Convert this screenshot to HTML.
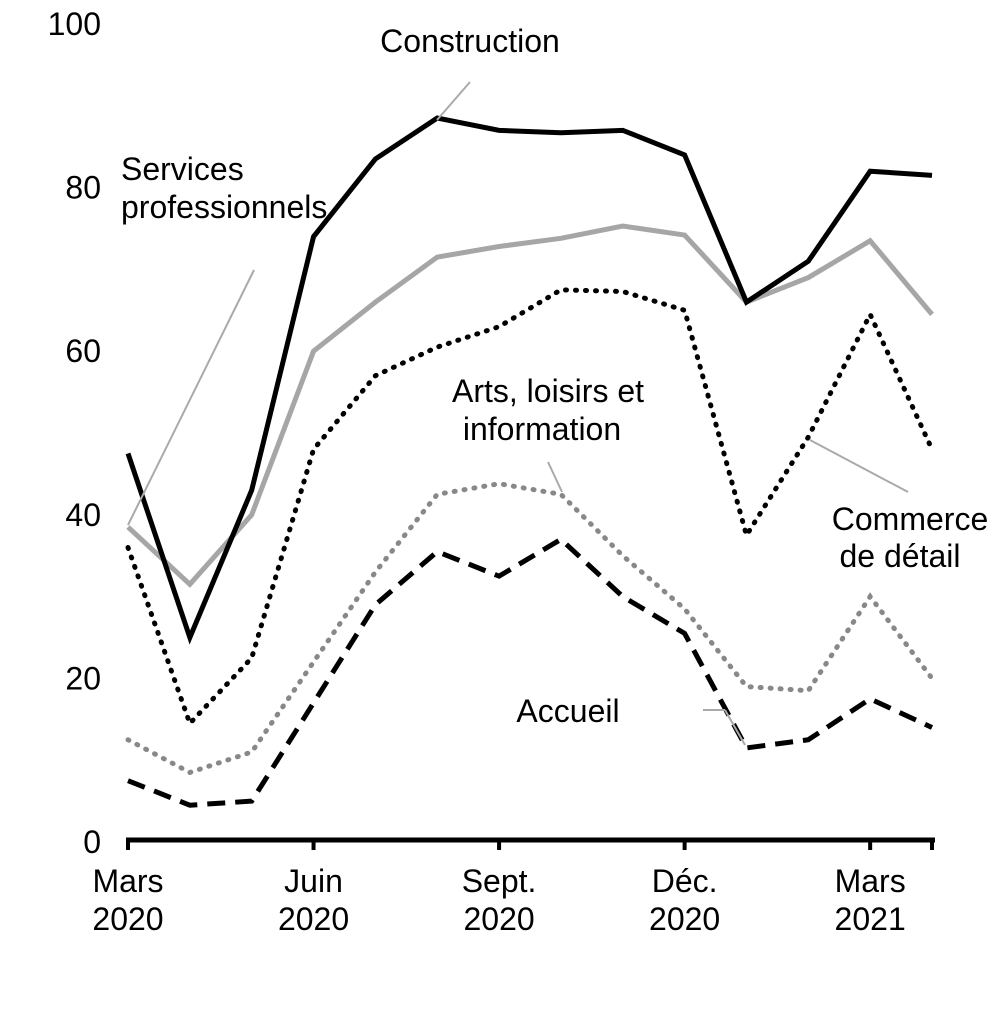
<!DOCTYPE html>
<html><head><meta charset="utf-8"><style>
body{margin:0;background:#fff}
svg text{font-family:"Liberation Sans",Arial,sans-serif;font-size:32px;fill:#000}
</style></head><body>
<svg id="chart" width="1004" height="1004" viewBox="0 0 1004 1004" xmlns="http://www.w3.org/2000/svg">
<g id="yticks"></g>
<g id="xaxis"></g>
<g id="series"></g>
<g id="ann">
<line x1="437" y1="120" x2="470" y2="82" stroke="#aaa" stroke-width="2"/>
<text x="470" y="52" text-anchor="middle">Construction</text>
<line x1="128" y1="525" x2="254" y2="270" stroke="#aaa" stroke-width="2"/>
<text x="121" y="180">Services</text>
<text x="121" y="218">professionnels</text>
<text x="548" y="402" text-anchor="middle">Arts, loisirs et</text>
<text x="542" y="440" text-anchor="middle">information</text>
<line x1="548" y1="462" x2="562" y2="492" stroke="#aaa" stroke-width="2"/>
<line x1="810" y1="440" x2="908" y2="492" stroke="#aaa" stroke-width="2"/>
<text x="910" y="530" text-anchor="middle">Commerce</text>
<text x="900" y="567" text-anchor="middle">de détail</text>
<text x="568" y="722" text-anchor="middle">Accueil</text>
<line x1="703" y1="710" x2="725" y2="710" stroke="#aaa" stroke-width="2"/>
<line x1="725" y1="710" x2="745" y2="745" stroke="#aaa" stroke-width="2"/>
</g>
</svg>
<script>
const yTicks=[0,20,40,60,80,100];
const xLabels=[["Mars","2020",0],["Juin","2020",3],["Sept.","2020",6],["Déc.","2020",9],["Mars","2021",12]];
const construction=[47.5,25,43,74,83.5,88.5,87,86.7,87,84,66,71,82,81.5];
const services=[38.5,31.5,40,60,66,71.5,72.8,73.8,75.3,74.2,66,69,73.5,64.5];
const commerce=[36,14.5,22.5,48,57,60.5,63,67.5,67.3,65,37.5,49.5,64.5,48];
const arts=[12.5,8.5,11,22,33,42.5,43.8,42.5,35,28.5,19,18.5,30,20];
const accueil=[7.5,4.5,5,17,29,35.5,32.5,37,30,25.5,11.5,12.5,17.5,14];
const NS="http://www.w3.org/2000/svg";
const x=i=>128+i*(932-128)/13;
const y=v=>842-v*8.18;
function mk(t,a,p){const e=document.createElementNS(NS,t);for(const k in a)e.setAttribute(k,a[k]);document.getElementById(p).appendChild(e);return e;}
yTicks.forEach(v=>{const t=mk("text",{x:101,y:y(v)+11,"text-anchor":"end"},"yticks");t.textContent=v;

});
const ax=mk("line",{x1:126,y1:840,x2:935,y2:840,stroke:"#000","stroke-width":5},"xaxis");


[0,3,6,9,12,13].forEach(i=>{const tk=mk("line",{x1:x(i),y1:840,x2:x(i),y2:850,stroke:"#000","stroke-width":4},"xaxis");

});
xLabels.forEach(l=>{const a=mk("text",{x:x(l[2]),y:892,"text-anchor":"middle"},"xaxis");a.textContent=l[0];


const b=mk("text",{x:x(l[2]),y:930,"text-anchor":"middle"},"xaxis");b.textContent=l[1];

});
function line(d,st,name){const p=mk("polyline",Object.assign({points:d.map((v,i)=>x(i)+","+y(v)).join(" "),fill:"none"},st),"series");

}
line(accueil,{stroke:"#000","stroke-width":5,"stroke-dasharray":"18,10"},"series-accueil");
line(arts,{stroke:"#888","stroke-width":5,"stroke-dasharray":"1,9","stroke-linecap":"round"},"series-arts");
line(commerce,{stroke:"#000","stroke-width":5,"stroke-dasharray":"1,9","stroke-linecap":"round"},"series-commerce");
line(services,{stroke:"#a6a6a6","stroke-width":5},"series-services");
line(construction,{stroke:"#000","stroke-width":5},"series-construction");
</script>
</body></html>
